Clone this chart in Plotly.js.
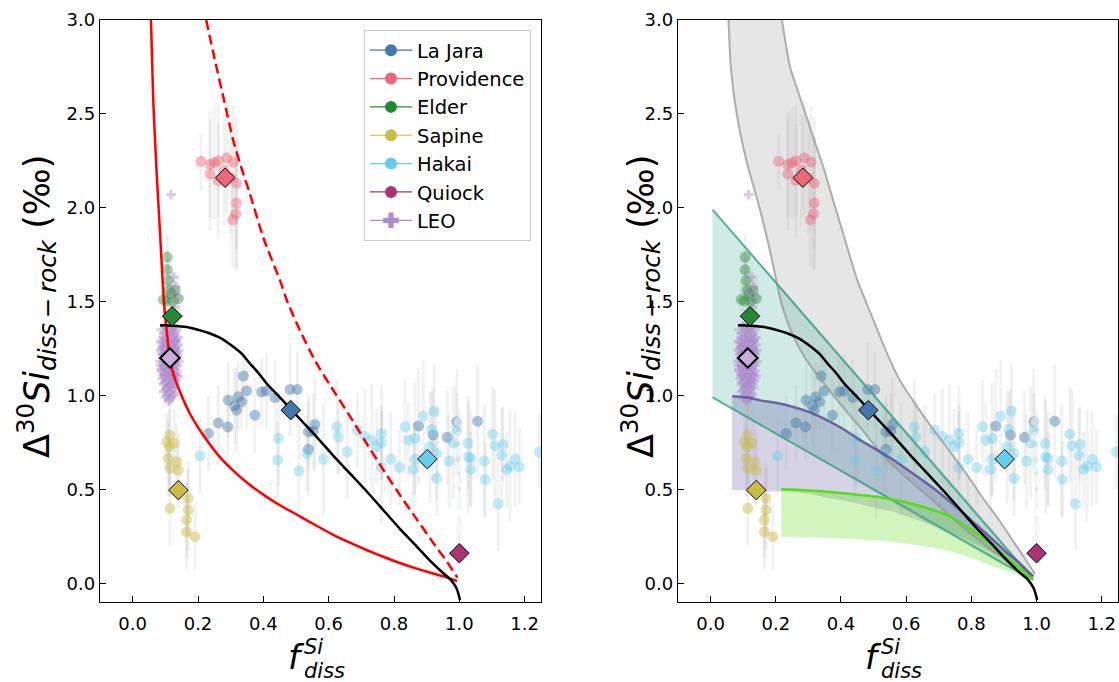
<!DOCTYPE html>
<html>
<head>
<meta charset="utf-8">
<script src="https://cdn.plot.ly/plotly-3.0.1.min.js"></script>
<style>html,body{margin:0;padding:0;background:#fff;}#chart{width:1119px;height:682px;}</style>
</head>
<body>
<div id="chart"></div>
<script>
// ---------------- data ----------------
const laJaraX = [0.339,0.349,0.323,0.293,0.334,0.318,0.374,0.395,0.410,0.436,0.482,0.504,0.262,0.291,0.232,0.558,0.538,0.553,0.538,0.875,0.992,1.056,0.920,0.963,0.312];
const laJaraY = [1.104,1.024,0.993,0.975,0.966,0.922,0.895,1.019,1.024,0.989,1.032,1.032,0.854,0.833,0.798,0.846,0.806,0.810,0.713,0.837,0.860,0.863,0.789,0.777,0.945];
const laJaraErr = [0.15,0.2,0.18,0.2,0.15,0.22,0.2,0.18,0.2,0.2,0.25,0.2,0.2,0.18,0.2,0.25,0.2,0.2,0.25,0.3,0.28,0.3,0.25,0.25,0.2];

const provX = [0.209,0.237,0.250,0.262,0.288,0.308,0.237,0.262,0.318,0.318,0.316,0.306,0.280,0.300];
const provY = [2.247,2.230,2.240,2.250,2.266,2.243,2.180,2.145,2.130,2.025,1.968,1.936,2.200,2.160];
const provErr = [0.15,0.28,0.3,0.3,0.3,0.3,0.3,0.3,0.35,0.35,0.3,0.25,0.3,0.3];

const elderX = [0.106,0.106,0.109,0.112,0.094,0.140,0.124,0.104,0.119,0.130];
const elderY = [1.737,1.670,1.613,1.560,1.511,1.516,1.503,1.503,1.543,1.560];
const elderErr = [0.12,0.1,0.12,0.1,0.1,0.12,0.1,0.1,0.12,0.1];

const sapineX = [0.114,0.104,0.112,0.127,0.109,0.135,0.114,0.140,0.114,0.170,0.170,0.165,0.165,0.191];
const sapineY = [0.789,0.753,0.727,0.745,0.665,0.647,0.612,0.603,0.399,0.452,0.390,0.337,0.274,0.248];
const sapineErr = [0.2,0.15,0.2,0.18,0.2,0.2,0.15,0.2,0.2,0.2,0.22,0.2,0.2,0.18];

const hakaiX = [0.206,0.446,0.444,0.509,0.533,0.584,0.625,0.630,0.657,0.688,0.711,0.732,0.747,0.762,0.762,0.790,0.762,0.816,0.834,0.844,0.864,0.859,0.864,0.890,0.923,0.915,0.910,0.931,0.931,0.969,0.982,0.992,1.026,1.028,1.035,1.035,1.077,1.079,1.102,1.109,1.133,1.130,1.145,1.155,1.171,1.184,1.119,1.245];
const hakaiY = [0.679,0.771,0.656,0.599,0.691,0.661,0.833,0.780,0.700,0.815,0.783,0.762,0.727,0.798,0.750,0.661,0.617,0.617,0.833,0.762,0.771,0.606,0.660,0.890,0.916,0.819,0.727,0.691,0.559,0.651,0.748,0.812,0.745,0.673,0.606,0.665,0.651,0.553,0.794,0.732,0.739,0.682,0.606,0.624,0.660,0.620,0.422,0.700];
const hakaiErr = [0.2,0.25,0.2,0.25,0.2,0.3,0.25,0.2,0.25,0.2,0.25,0.3,0.2,0.25,0.2,0.25,0.3,0.2,0.25,0.2,0.3,0.25,0.2,0.3,0.25,0.2,0.3,0.25,0.2,0.25,0.3,0.2,0.25,0.3,0.2,0.25,0.3,0.2,0.25,0.3,0.2,0.25,0.2,0.3,0.25,0.2,0.25,0.2];

const quiockX = [1.0,1.0,1.0,1.0,1.0,1.0,1.0];
const quiockY = [0.86,0.78,0.70,0.62,0.55,0.45,0.30];
const quiockErr = [0.06,0.06,0.06,0.06,0.06,0.06,0.06];

const leoX = [0.105,0.118,0.095,0.128,0.110,0.122,0.100,0.134,0.114,0.090,0.125,0.106,0.131,0.097,0.117,0.086,0.124,0.109,0.138,0.101,0.119,0.092,0.129,0.112,0.084,0.123,0.104,0.136,0.096,0.116,0.127,0.088,0.108,0.121,0.099,0.133,0.113,0.091,0.126,0.105,0.118,0.095,0.130,0.110,0.122,0.100,0.115,0.127,0.107,0.119,0.112,0.103,0.115,0.126,0.093,0.111,0.131,0.098,0.120,0.107,0.124,0.140,0.087,0.134,0.113,0.102,
  0.088,0.099,0.112,0.121,0.135,0.094,0.127,0.139,0.086,0.103,0.116,0.132,0.092,0.111,0.129,0.141,0.089,0.106,0.118,0.133,0.095,0.114,0.127,0.141,0.087,0.101,0.122,0.136,0.093,0.109,0.127,0.139,0.097,0.112,0.124,0.104,0.116,0.131,0.095,0.108,0.124,0.111,0.101,0.120,0.091,0.137,0.106,0.129,0.117,0.098,
  0.125,0.132,0.120,0.138,0.128,0.118,0.135,0.117];
const leoY = [1.36,1.35,1.33,1.34,1.32,1.31,1.30,1.30,1.29,1.28,1.28,1.27,1.26,1.25,1.25,1.24,1.23,1.23,1.22,1.21,1.21,1.20,1.19,1.19,1.18,1.17,1.17,1.16,1.15,1.15,1.14,1.13,1.13,1.12,1.11,1.11,1.10,1.09,1.09,1.08,1.07,1.06,1.06,1.05,1.04,1.03,1.02,1.01,1.00,0.99,0.98,1.19,1.33,1.24,1.22,1.14,1.20,1.10,1.26,1.30,1.37,1.27,1.16,1.08,1.06,1.26,
  1.35,1.37,1.38,1.36,1.35,1.31,1.32,1.31,1.29,1.28,1.29,1.29,1.26,1.26,1.25,1.24,1.22,1.22,1.22,1.23,1.18,1.18,1.17,1.18,1.14,1.14,1.15,1.13,1.11,1.11,1.11,1.10,1.07,1.08,1.07,1.04,1.05,1.04,1.02,1.02,1.00,0.97,0.99,1.09,1.25,1.20,1.34,1.29,1.12,1.16,
  1.63,1.58,1.55,1.52,1.47,1.44,1.42,2.07];

const meanSites = ["La Jara","Providence","Elder","Sapine","Hakai","Quiock","LEO"];
const meanX = [0.484,0.283,0.121,0.140,0.902,1.000,0.114];
const meanY = [0.922,2.160,1.422,0.496,0.661,0.160,1.200];

// model curves
const redX = [0.056,0.063,0.073,0.084,0.092,0.098,0.104,0.114,0.127,0.140,0.157,0.175,0.200,0.227,0.265,0.308,0.360,0.410,0.460,0.512,0.563,0.614,0.665,0.716,0.767,0.818,0.870,0.920,0.960,0.993];
const redY = [3.0,2.57,2.20,1.86,1.60,1.45,1.35,1.19,1.10,1.04,0.97,0.904,0.83,0.762,0.676,0.600,0.522,0.460,0.406,0.356,0.306,0.258,0.216,0.177,0.141,0.108,0.078,0.052,0.032,0.012];
const dashX = [0.225,0.250,0.280,0.308,0.335,0.359,0.400,0.451,0.472,0.512,0.560,0.614,0.665,0.716,0.767,0.818,0.870,0.920,0.960,0.994];
const dashY = [3.0,2.80,2.57,2.358,2.20,2.074,1.84,1.613,1.507,1.347,1.18,1.028,0.89,0.745,0.605,0.47,0.34,0.215,0.12,0.03];
const blackX = [0.084,0.120,0.165,0.200,0.237,0.275,0.308,0.335,0.359,0.385,0.410,0.445,0.482,0.520,0.563,0.614,0.665,0.716,0.767,0.818,0.870,0.910,0.951,0.970,0.982,0.992,0.998,1.002];
const blackY = [1.374,1.372,1.365,1.350,1.330,1.300,1.259,1.220,1.170,1.120,1.064,1.000,0.931,0.860,0.780,0.680,0.585,0.490,0.390,0.290,0.195,0.120,0.053,0.025,0.000,-0.030,-0.062,-0.089];

// right-panel envelopes
const greyLX = [0.055,0.062,0.080,0.110,0.150,0.185,0.216,0.250,0.290,0.345,0.410,0.459,0.510,0.561,0.612,0.663,0.714,0.765,0.816,0.867,0.918,0.955,0.990];
const greyLY = [3.0,2.75,2.50,2.25,2.00,1.75,1.50,1.33,1.20,1.07,0.93,0.83,0.72,0.625,0.545,0.47,0.39,0.31,0.24,0.17,0.115,0.08,0.04];
const greyRX = [0.219,0.244,0.270,0.295,0.320,0.346,0.376,0.407,0.449,0.500,0.540,0.581,0.630,0.683,0.735,0.786,0.837,0.888,0.930,0.969,0.995];
const greyRY = [3.0,2.748,2.61,2.482,2.35,2.216,2.04,1.862,1.62,1.40,1.23,1.08,0.95,0.82,0.70,0.58,0.45,0.33,0.22,0.12,0.05];

const tealX = [0.006,0.985];
const tealUpY = [1.99,0.03];
const tealLoY = [0.99,0.02];

const indX = [0.066,0.110,0.152,0.203,0.254,0.305,0.357,0.408,0.459,0.510,0.561,0.612,0.663,0.714,0.765,0.816,0.867,0.908,0.949,0.990];
const indUpY = [0.996,0.99,0.974,0.96,0.939,0.91,0.869,0.82,0.762,0.71,0.656,0.595,0.532,0.465,0.39,0.31,0.23,0.165,0.106,0.035];
const indLoY = [0.496,0.494,0.490,0.488,0.486,0.475,0.455,0.44,0.42,0.40,0.381,0.35,0.32,0.285,0.248,0.205,0.16,0.115,0.075,0.02];

const limeX = [0.217,0.287,0.357,0.434,0.510,0.561,0.612,0.663,0.714,0.765,0.816,0.867,0.918,0.955,0.990];
const limeUpY = [0.50,0.495,0.487,0.475,0.461,0.445,0.426,0.40,0.372,0.325,0.266,0.20,0.124,0.07,0.018];
const limeLoY = [0.248,0.245,0.240,0.236,0.228,0.22,0.208,0.195,0.178,0.155,0.124,0.09,0.058,0.035,0.01];

// ---------------- styles ----------------
const siteColors = {"La Jara":"#4477AA","Providence":"#EE6677","Elder":"#228833","Sapine":"#CCBB44","Hakai":"#66CCEE","Quiock":"#AA3377","LEO":"#AF8CCD"};
const FONT = "DejaVu Sans, Verdana, sans-serif";
const ERRC = "rgba(160,160,160,0.14)";

function site(name, xs, ys, errs, xa, ya, opac, col) {
  return {x: xs, y: ys, xaxis: xa, yaxis: ya, type: 'scatter', mode: 'markers', showlegend: false, hoverinfo: 'skip',
    marker: {size: 11, color: col || siteColors[name], opacity: opac, line: {width: 0}},
    error_y: {type: 'data', array: errs, visible: true, color: ERRC, thickness: 3, width: 0}};
}
function line(xs, ys, xa, ya, color, width, dash) {
  return {x: xs, y: ys, xaxis: xa, yaxis: ya, type: 'scatter', mode: 'lines', showlegend: false, hoverinfo: 'skip',
    line: {color: color, width: width, dash: dash || 'solid', shape: 'spline', smoothing: 0.6}};
}
function band(xU, yU, xL, yL, xa, ya, fill) {
  return {x: xU.concat(xL.slice().reverse()), y: yU.concat(yL.slice().reverse()), xaxis: xa, yaxis: ya,
    type: 'scatter', mode: 'lines', fill: 'toself', fillcolor: fill, line: {width: 0, shape: 'spline', smoothing: 0.6},
    showlegend: false, hoverinfo: 'skip'};
}
function dataLayer(xa, ya) {
  return [
    site("La Jara", laJaraX, laJaraY, laJaraErr, xa, ya, 0.45),
    site("Providence", provX, provY, provErr, xa, ya, 0.45),
    site("Elder", elderX, elderY, elderErr, xa, ya, 0.4),
    site("Sapine", sapineX, sapineY, sapineErr, xa, ya, 0.45),
    site("Hakai", hakaiX, hakaiY, hakaiErr, xa, ya, 0.4),
    site("Quiock", quiockX, quiockY, quiockErr, xa, ya, 0.5, "#f4fbfe"),
    {x: leoX, y: leoY, xaxis: xa, yaxis: ya, type: 'scatter', mode: 'markers', showlegend: false, hoverinfo: 'skip',
     marker: {symbol: 'cross', size: 8, color: siteColors["LEO"], opacity: 0.45, line: {width: 0}}}
  ];
}
function means(xa, ya) {
  return meanSites.map((s, i) => ({x: [meanX[i]], y: [meanY[i]], xaxis: xa, yaxis: ya, type: 'scatter', mode: 'markers',
    showlegend: false, hoverinfo: 'skip',
    marker: {symbol: 'diamond', size: 15, color: s === 'LEO' ? '#C7AEDD' : siteColors[s],
      line: {color: 'black', width: s === 'LEO' ? 2 : 1}}}));
}

const traces = [];
// left panel
traces.push(...dataLayer('x', 'y'));
traces.push(line(redX, redY, 'x', 'y', '#FF0000', 2.5));
traces.push(line(dashX, dashY, 'x', 'y', '#FF0000', 2.5, '10px,5px'));
traces.push(line(blackX, blackY, 'x', 'y', '#000000', 2.5));
traces.push(...means('x', 'y'));

// right panel: envelopes
traces.push(band(greyLX, greyLY, greyRX, greyRY, 'x2', 'y2', 'rgba(128,128,128,0.2)'));
traces.push(band(tealX, tealUpY, tealX, tealLoY, 'x2', 'y2', 'rgba(68,170,153,0.25)'));
traces.push(band(indX, indUpY, indX, indLoY, 'x2', 'y2', 'rgba(51,34,136,0.2)'));
traces.push(band(limeX, limeUpY, limeX, limeLoY, 'x2', 'y2', 'rgba(102,221,34,0.3)'));
traces.push(...dataLayer('x2', 'y2'));
traces.push(line(greyLX, greyLY, 'x2', 'y2', 'rgba(150,150,150,0.75)', 2));
traces.push(line(greyRX, greyRY, 'x2', 'y2', 'rgba(150,150,150,0.75)', 2));
traces.push(line(tealX, tealUpY, 'x2', 'y2', 'rgba(68,160,136,0.85)', 2));
traces.push(line(tealX, tealLoY, 'x2', 'y2', 'rgba(68,160,136,0.85)', 2));
traces.push(line(indX, indUpY, 'x2', 'y2', 'rgba(90,80,150,0.85)', 2.5));
traces.push(line(limeX, limeUpY, 'x2', 'y2', 'rgb(85,222,20)', 2.5));
traces.push(line(blackX, blackY, 'x2', 'y2', '#000000', 2.5));
traces.push(...means('x2', 'y2'));

// legend entries
meanSites.forEach(s => {
  traces.push({x: [null], y: [null], xaxis: 'x', yaxis: 'y', type: 'scatter', mode: 'lines+markers', name: s,
    line: {color: siteColors[s], width: 1.2},
    marker: {symbol: s === 'LEO' ? 'cross' : 'circle', size: s === 'LEO' ? 13 : 12, color: siteColors[s]}});
});

const W = 1119;
function xax(dom, anchor) {
  return {domain: dom, anchor: anchor, range: [-0.1, 1.25], tickvals: [0, 0.2, 0.4, 0.6, 0.8, 1.0, 1.2], tickformat: '.1f',
    ticks: 'inside', ticklen: 6, tickwidth: 1, tickcolor: 'black', showline: true, linecolor: 'black', linewidth: 1.2,
    mirror: true, showgrid: false, zeroline: false, ticklabelstandoff: 5, tickfont: {family: FONT, size: 18, color: 'black'}};
}
function yax(anchor) {
  return {domain: [0, 1], anchor: anchor, range: [-0.1, 3.0], tick0: 0, dtick: 0.5, tickformat: '.1f',
    ticks: 'inside', ticklen: 6, tickwidth: 1, tickcolor: 'black', showline: true, linecolor: 'black', linewidth: 1.2,
    mirror: true, showgrid: false, zeroline: false, tickfont: {family: FONT, size: 18, color: 'black'}};
}
const yTitle = "Δ<sup>30</sup><i>Si</i><sub><i>diss\u2009−\u2009rock</i></sub> (‰)";
function fy(py) { return (602 - py) / 582; }
const annotations = [];
[[36, 320.5], [640, 898]].forEach(([yx, cx]) => {
  annotations.push({xref: 'paper', yref: 'paper', x: yx / W, y: fy(307), xanchor: 'center', yanchor: 'middle', textangle: -90,
    showarrow: false, text: yTitle, font: {family: FONT, size: 35, color: 'black'}});
  annotations.push({xref: 'paper', yref: 'paper', x: (cx - 14) / W, y: fy(657), xanchor: 'right', yanchor: 'middle',
    showarrow: false, text: "<i>f</i>", font: {family: FONT, size: 34, color: 'black'}});
  annotations.push({xref: 'paper', yref: 'paper', x: (cx - 19) / W, y: fy(647), xanchor: 'left', yanchor: 'middle',
    showarrow: false, text: "<i>Si</i>", font: {family: FONT, size: 21, color: 'black'}});
  annotations.push({xref: 'paper', yref: 'paper', x: (cx - 19) / W, y: fy(671), xanchor: 'left', yanchor: 'middle',
    showarrow: false, text: "<i>diss</i>", font: {family: FONT, size: 21, color: 'black'}});
});

const layout = {
  width: 1119, height: 682, margin: {l: 0, r: 0, t: 20, b: 80},
  paper_bgcolor: 'white', plot_bgcolor: 'white',
  font: {family: FONT, color: 'black'},
  xaxis: xax([100 / W, 541 / W], 'y'), yaxis: yax('x'),
  xaxis2: xax([678 / W, 1118 / W], 'y2'), yaxis2: yax('x2'),
  showlegend: true,
  legend: {x: 531 / W, xanchor: 'right', y: fy(30), yanchor: 'top', bgcolor: 'rgba(255,255,255,0.9)',
    bordercolor: '#cccccc', borderwidth: 1, itemwidth: 42, font: {family: FONT, size: 19.5, color: 'black'}, tracegroupgap: 0},
  annotations: annotations
};
Plotly.newPlot('chart', traces, layout, {displayModeBar: false, staticPlot: true});
</script>
</body>
</html>
